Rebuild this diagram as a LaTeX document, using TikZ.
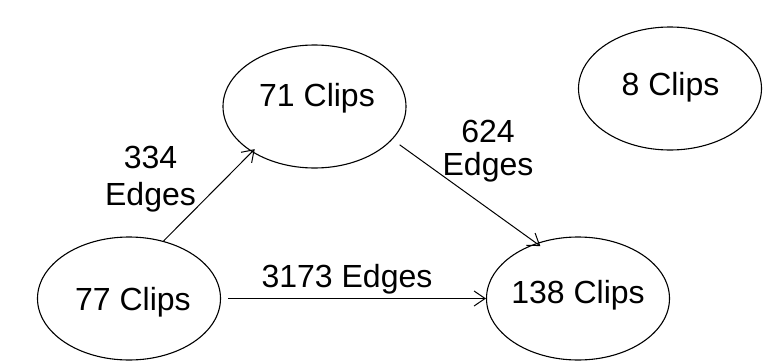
\documentclass[tikz,border=0pt]{standalone}
\usepackage{fontspec}
\setmainfont{Liberation Sans}
\usetikzlibrary{shapes.geometric,arrows.meta}
\begin{document}
\begin{tikzpicture}[x=1pt,y=-1pt,
  ellnode/.style={ellipse,draw,line width=1.1pt,inner sep=0pt,minimum width=183pt,minimum height=123pt},
  lbl/.style={font=\fontsize{32}{37}\selectfont,inner sep=0pt,anchor=base,align=center},
  conn/.style={line width=1pt,-{Straight Barb[length=11pt,width=15pt,line width=1pt]}}]
\useasboundingbox (0,0) rectangle (771,364);
\fill[white] (0,0) rectangle (771,364);
\node[ellnode] (c71) at (314.5,106.5) {};
\node[ellnode] (c8) at (670,88.5) {};
\node[ellnode] (c77) at (129,298.5) {};
\node[ellnode] (c138) at (578,298.5) {};
\node[lbl] (t71) at (317,106) {71 Clips};
\node[lbl] (t8) at (670.5,95) {8 Clips};
\node[lbl] (t77) at (133,310) {77 Clips};
\node[lbl] (t138) at (578,303) {138 Clips};
\node[lbl] (e334) at (150.5,205) {334\\Edges};
\node[lbl,font=\fontsize{32}{33}\selectfont] (e624) at (488,175) {624\\Edges};
\node[lbl] (e3173) at (347,287) {3173 Edges};
\draw[conn,shorten >=-4pt] (c77.59.8) -- (c71.216.9);
\draw[conn,shorten <=9pt,shorten >=-5pt] (c71.-23.1) -- (c138.127.2);
\draw[conn,shorten <=7pt] (c77.east) -- (c138.west);
\end{tikzpicture}
\end{document}
